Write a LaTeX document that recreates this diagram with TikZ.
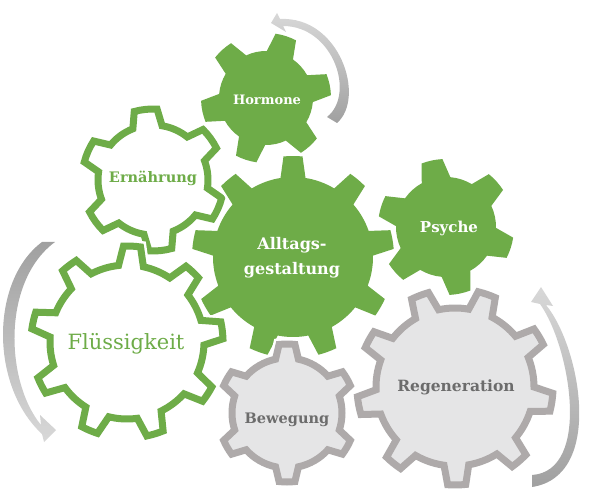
\documentclass[tikz,border=0pt]{standalone}
\usepackage{fontspec}
\setmainfont{DejaVu Serif}

\definecolor{gearGreen}{RGB}{110,172,72}
\definecolor{gearGrey}{RGB}{174,170,170}
\definecolor{gearFill}{RGB}{229,229,230}
\definecolor{labelGrey}{RGB}{108,108,108}
\definecolor{arrowDark}{RGB}{160,160,160}
\definecolor{arrowLight}{RGB}{216,216,216}

\newcommand{\gearpath}[6]{%
	({#6+#4}:#2)
	\foreach \k [evaluate=\k as \ta using #6+(\k-1)*360/#1+#4,
		evaluate=\k as \tb using #6+\k*360/#1-#4,
		evaluate=\k as \tc using #6+\k*360/#1-#5,
		evaluate=\k as \td using #6+\k*360/#1+#5,
		evaluate=\k as \te using #6+\k*360/#1+#4] in {1,...,#1} {
		arc[start angle=\ta, end angle=\tb, radius=#2] -- (\tc:#3)
		arc[start angle=\tc, end angle=\td, radius=#3] -- (\te:#2)
	} -- cycle
}

\begin{document}
\begin{tikzpicture}[x=1pt, y=1pt,
		fullgear/.style={fill=gearGreen, preaction={draw=white, line width=5pt}},
		ringgear/.style={draw=gearGreen, line width=7pt, fill=white, preaction={draw=white, line width=12pt}},
		greygear/.style={draw=gearGrey, line width=7pt, fill=gearFill, preaction={draw=white, line width=12pt}},
		gearlabel/.style={font=\bfseries\fontsize{#1}{#1}\selectfont, anchor=base, inner sep=0pt}]
		\useasboundingbox (0, 0) rectangle (589, 496);

		\path[fullgear, shift={(266, 398)}] \gearpath{6}{47}{65}{17}{9.5}{72};
		\path[ringgear, shift={(153, 316)}] \gearpath{6}{55}{71}{15.5}{9.3}{96};
		\path[fullgear, shift={(446, 269)}] \gearpath{6}{50}{68}{17}{9}{102};
		\path[fullgear, shift={(293, 239)}] \gearpath{9}{80}{101}{9}{5.4}{90};
		\path[ringgear, shift={(127, 154)}] \gearpath{9}{77}{96}{9.3}{5.1}{87};
		\path[greygear, shift={(287, 83)}] \gearpath{6}{55}{69}{12}{6.6}{90};
		\path[greygear, shift={(455, 109)}] \gearpath{9}{79}{98}{9}{5.3}{71};

		\shade[top color=arrowLight, bottom color=arrowDark] (337, 373) .. controls (366, 398) and (340, 480) .. (280, 477)
			-- (277, 483) -- (271, 473) -- (286, 464) -- (283, 470) .. controls (333, 470) and (356, 402) .. (327, 379) -- cycle;
		\shade[top color=arrowDark, bottom color=arrowLight] (42, 254) .. controls (-10, 215) and (-10, 110) .. (42, 62)
			-- (44, 54) -- (56, 66) -- (40, 81) -- (41, 71) .. controls (5, 115) and (2, 215) .. (55, 254) -- cycle;
		\shade[top color=arrowLight, bottom color=arrowDark] (532, 9) .. controls (605, 20) and (580, 150) .. (546, 191)
			-- (553, 190) -- (541, 209) -- (531, 194) -- (540, 192) .. controls (570, 150) and (592, 25) .. (532, 21) -- cycle;

		\node[gearlabel=13, text=white] (hormone) at (267, 391) {Hormone};
		\node[gearlabel=14.5, text=gearGreen] (ernaehrung) at (153, 313) {Ernährung};
		\node[gearlabel=16, text=white, anchor=center, align=center, font=\bfseries\fontsize{16}{25}\selectfont] (alltag) at (292, 238) {Alltags-\\gestaltung};
		\node[gearlabel=15, text=white] (psyche) at (449, 263) {Psyche};
		\node[gearlabel=21, text=gearGreen, font=\fontsize{21}{21}\selectfont] (fluessigkeit) at (126, 147) {Flüssigkeit};
		\node[gearlabel=14.5, text=labelGrey] (bewegung) at (287, 73) {Bewegung};
		\node[gearlabel=15.5, text=labelGrey] (regeneration) at (456, 105) {Regeneration};
	\end{tikzpicture}
\end{document}
